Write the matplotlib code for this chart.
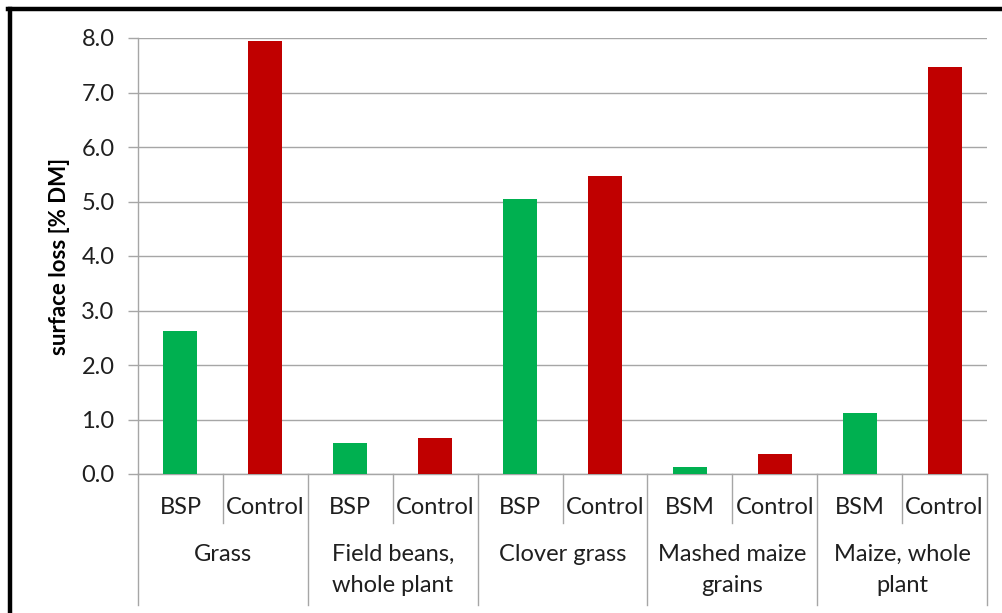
import matplotlib.pyplot as plt
from matplotlib.lines import Line2D
import matplotlib.transforms as mtransforms
import numpy as np

# data
groups = ['Grass', 'Field beans,\nwhole plant', 'Clover grass', 'Mashed maize\ngrains', 'Maize, whole\nplant']
treat_labels = ['BSP', 'Control', 'BSP', 'Control', 'BSP', 'Control', 'BSM', 'Control', 'BSM', 'Control']
treat_values = [2.62, 7.94, 0.57, 0.66, 5.05, 5.47, 0.13, 0.37, 1.12, 7.47]
bar_colors = ['#00b050', '#c00000'] * 5

plt.rcParams['font.family'] = ['Lato', 'DejaVu Sans']

W, H = 1002, 613
fig = plt.figure(figsize=(W / 100, H / 100), dpi=100)
ax = fig.add_axes([138 / W, (H - 474) / H, (987 - 138) / W, (474 - 38) / H])

x = np.arange(len(treat_values))
ax.bar(x, treat_values, width=0.4, color=bar_colors, zorder=3)
ax.set_xlim(-0.5, len(treat_values) - 0.5)
ax.set_ylim(0, 8)
ax.set_yticks(np.arange(0, 8.1, 1.0))
ax.set_yticklabels([f'{v:.1f}' for v in np.arange(0, 8.1, 1.0)], fontsize=17, color='#1f1f1f')
ax.tick_params(axis='y', length=7, color='#a6a6a6', width=1, pad=10)
ax.set_xticks([])
ax.yaxis.grid(True, color='#a6a6a6', lw=1)
ax.set_axisbelow(True)
for s in ['top', 'right']:
    ax.spines[s].set_visible(False)
for s in ['left', 'bottom']:
    ax.spines[s].set_color('#a6a6a6')
ax.spines['bottom'].set_linewidth(1)
ax.spines['left'].set_linewidth(1)
ax.set_ylabel('surface loss [% DM]', fontsize=16, fontweight='bold', labelpad=8)

# two-level category axis
trans = mtransforms.blended_transform_factory(ax.transData, ax.transAxes)
ph = 474 - 38
def yf(py):
    return (474 - py) / ph

for i, lab in enumerate(treat_labels):
    ax.text(i, yf(507), lab, transform=trans, ha='center', va='center', fontsize=17, color='#1f1f1f')
for i in range(len(treat_labels) + 1):
    bottom = 605 if i % 2 == 0 else 523
    ax.add_line(Line2D([i - 0.5, i - 0.5], [0, yf(bottom)], transform=trans, color='#a6a6a6',
                       lw=1, clip_on=False))
for g, name in enumerate(groups):
    ax.text(2 * g + 0.5, yf(544), name, transform=trans, ha='center', va='top', fontsize=17,
            color='#1f1f1f', linespacing=1.6)

# outer frame
fig.add_artist(Line2D([8 / W, 1], [1 - 9 / H, 1 - 9 / H], color='black', lw=3.2))
fig.add_artist(Line2D([10 / W, 10 / W], [0, 1 - 9 / H], color='black', lw=3.2))

fig.savefig('out.png', dpi=100)
